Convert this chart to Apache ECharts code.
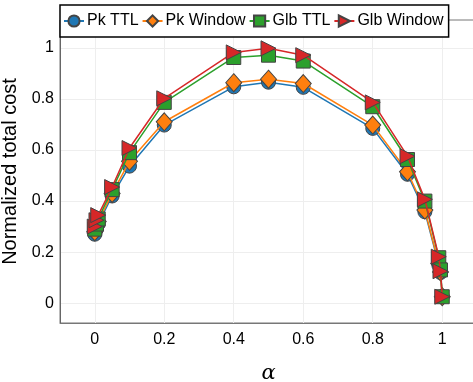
<!DOCTYPE html>
<html>
<head>
<meta charset="utf-8">
<script src="https://cdn.jsdelivr.net/npm/echarts@6/dist/echarts.min.js"></script>
<style>
  html, body { margin: 0; padding: 0; background: #fff; }
  #chart { width: 473px; height: 382px; }
</style>
</head>
<body>
<div id="chart"></div>
<script>
// Trade-off parameter alpha
const alpha = [0, 0.005, 0.01, 0.05, 0.1, 0.2, 0.4, 0.5, 0.6, 0.8, 0.9, 0.95, 0.99, 0.995, 1.0];

// Normalized total cost per policy
const pkTTL     = [0.27, 0.29, 0.31, 0.42, 0.537, 0.698, 0.848, 0.866, 0.846, 0.685, 0.505, 0.358, 0.15, 0.12, 0.025];
const pkWindow  = [0.28, 0.30, 0.32, 0.43, 0.556, 0.711, 0.864, 0.878, 0.861, 0.698, 0.515, 0.365, 0.155, 0.122, 0.025];
const glbTTL    = [0.29, 0.31, 0.33, 0.445, 0.59, 0.787, 0.963, 0.972, 0.949, 0.77, 0.563, 0.40, 0.178, 0.13, 0.025];
const glbWindow = [0.30, 0.325, 0.345, 0.455, 0.608, 0.803, 0.983, 0.999, 0.972, 0.787, 0.576, 0.407, 0.182, 0.125, 0.025];

const seriesNames = ['Pk TTL', 'Pk Window', 'Glb TTL', 'Glb Window'];
const xTicks = [0, 0.2, 0.4, 0.6, 0.8, 1];
const yTicks = [0, 0.2, 0.4, 0.6, 0.8, 1];

const colors = ['#1f77b4', '#ff7f0e', '#2ca02c', '#d62728'];
const symbols = [
  { symbol: 'circle', size: 14, rotate: 0 },
  { symbol: 'diamond', size: [16, 18], rotate: 0 },
  { symbol: 'rect', size: 14, rotate: 0 },
  { symbol: 'triangle', size: [15, 15], rotate: -90 }
];
const values = [pkTTL, pkWindow, glbTTL, glbWindow];

const fmt = v => (Math.abs(v - Math.round(v)) < 1e-9 ? String(Math.round(v)) : String(+v.toFixed(1)));

const chart = echarts.init(document.getElementById('chart'), null, { renderer: 'canvas' });
chart.setOption({
  animation: false,
  backgroundColor: '#fff',
  textStyle: { fontFamily: 'Liberation Sans, Arial, Helvetica, sans-serif' },
  grid: {
    left: 60, top: 20, bottom: 59, width: 417,
    outerBoundsMode: 'none',
    show: true, borderColor: '#777', borderWidth: 1, containLabel: false
  },
  legend: {
    left: 60, top: 5, width: 440,
    orient: 'horizontal',
    backgroundColor: '#fff',
    borderColor: '#000', borderWidth: 1.5, borderRadius: 0,
    padding: [8, 5, 8, 3],
    itemGap: 3, itemWidth: 20, itemHeight: 14,
    textStyle: { fontSize: 16, color: '#000', padding: [0, 0, 0, -2] },
    data: seriesNames
  },
  xAxis: {
    type: 'value', min: -0.1, max: 1.1,
    name: 'α', nameLocation: 'middle', nameGap: 40,
    nameTextStyle: { fontFamily: 'DejaVu Serif, serif', fontStyle: 'italic', fontSize: 21, color: '#000' },
    axisLine: { show: true, onZero: false, lineStyle: { color: '#777', width: 1 } },
    axisTick: { show: false, customValues: xTicks },
    axisLabel: { customValues: xTicks, formatter: fmt, fontSize: 16, color: '#000', margin: 9 },
    splitLine: { show: true, lineStyle: { color: '#eee', width: 1 } }
  },
  yAxis: {
    type: 'value', min: -0.078, max: 1.11,
    name: 'Normalized total cost', nameLocation: 'middle', nameGap: 33,
    nameTextStyle: { fontSize: 20, color: '#000' },
    axisLine: { show: true, onZero: false, lineStyle: { color: '#666', width: 1 } },
    axisTick: { show: false, customValues: yTicks },
    axisLabel: { customValues: yTicks, formatter: fmt, fontSize: 16, color: '#000', margin: 6 },
    splitLine: { show: true, lineStyle: { color: '#eee', width: 1 } }
  },
  series: seriesNames.map((name, i) => ({
    name,
    type: 'line',
    data: alpha.map((a, j) => [a, values[i][j]]),
    symbol: symbols[i].symbol,
    symbolSize: symbols[i].size,
    symbolRotate: symbols[i].rotate,
    showAllSymbol: true,
    lineStyle: { color: colors[i], width: 1.5 },
    itemStyle: { color: colors[i], borderColor: '#444', borderWidth: 1 },
    z: 2 + i
  }))
});
</script>
</body>
</html>
